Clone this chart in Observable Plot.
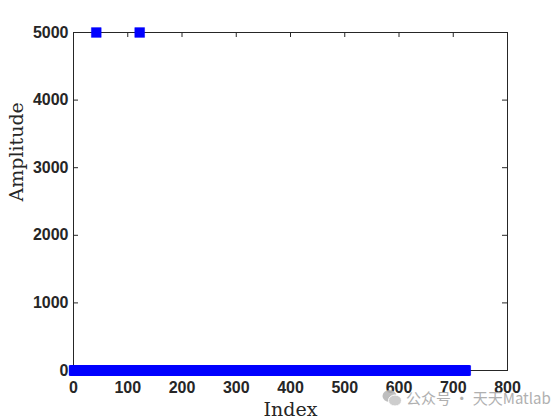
<!DOCTYPE html>
<html>
<head>
<meta charset="utf-8">
<script src="https://cdn.jsdelivr.net/npm/d3@7"></script>
<script src="https://cdn.jsdelivr.net/npm/@observablehq/plot@0.6"></script>
<style>
  body { margin: 0; background: #fff; }
  #wrap { position: relative; width: 560px; height: 420px; }
  #wm { position: absolute; left: 382px; top: 387px; display: flex; align-items: center;
        font-family: "Noto Sans CJK SC", "Noto Sans", sans-serif; font-size: 15px; color: #a8a8a8; opacity: 0.9; white-space: nowrap; }
  #wm svg { margin-right: 4px; }
</style>
</head>
<body>
<div id="wrap"></div>
<script>
// Signal: length and sparse nonzero samples (all other samples are 0)
const signalLength = 723;
const spikeIndex = [42, 122];
const spikeAmplitude = [5000, 5000];
const xTicks = [0, 100, 200, 300, 400, 500, 600, 700, 800];
const yTicks = [0, 1000, 2000, 3000, 4000, 5000];

const amp = new Array(signalLength).fill(0);
spikeIndex.forEach((k, i) => { amp[k - 1] = spikeAmplitude[i]; });
const data = amp.map((a, i) => ({index: i + 1, amplitude: a}));

const axisColor = "#262626";
const frameH = 420 - 32 - 50;
const frameW = 560 - 73 - 53;
const serif = "'DejaVu Serif', 'Liberation Serif', serif";

const chart = Plot.plot({
  width: 560, height: 420,
  marginLeft: 73, marginRight: 53, marginTop: 32, marginBottom: 50,
  style: {fontFamily: "'Liberation Sans', Arial, sans-serif", fontSize: "16px", fontWeight: "bold", color: axisColor, background: "white"},
  x: {domain: [0, 800]},
  y: {domain: [0, 5000]},
  marks: [
    Plot.frame({stroke: axisColor, strokeWidth: 1}),
    // inward ticks (bottom, top, left, right)
    Plot.ruleX(xTicks, {stroke: axisColor, insetTop: frameH - 5}),
    Plot.ruleX(xTicks, {stroke: axisColor, insetBottom: frameH - 5}),
    Plot.ruleY(yTicks, {stroke: axisColor, insetRight: frameW - 5}),
    Plot.ruleY(yTicks, {stroke: axisColor, insetLeft: frameW - 5}),
    Plot.axisX({ticks: xTicks, tickSize: 0, tickPadding: 11, label: null, fill: axisColor}),
    Plot.axisY({ticks: yTicks, tickSize: 0, tickPadding: 5, label: null, fill: axisColor, tickFormat: d => String(d)}),
    Plot.text(["Index"], {frameAnchor: "bottom", lineAnchor: "bottom", dy: 45, fontFamily: serif, fontSize: 19, fontWeight: "normal", fill: "#262626"}),
    Plot.text(["Amplitude"], {frameAnchor: "left", lineAnchor: "bottom", dx: -51, rotate: -90, fontFamily: serif, fontSize: 19, fontWeight: "normal", fill: "#262626"}),
    Plot.dot(data, {x: "index", y: "amplitude", symbol: "square", r: 5.5, fill: "#0000ff", stroke: "#0000ff", strokeWidth: 0.5})
  ]
});
const wrap = document.getElementById("wrap");
wrap.appendChild(chart);
const wm = document.createElement("div");
wm.id = "wm";
wm.innerHTML = '<svg width="20" height="18" viewBox="0 0 20 18"><ellipse cx="7.5" cy="7" rx="7" ry="6" fill="#b8b8b8"/><ellipse cx="13" cy="11.5" rx="6.5" ry="5.5" fill="#c8c8c8" stroke="#fff" stroke-width="1"/></svg><span>公众号 · 天天Matlab</span>';
wrap.appendChild(wm);
</script>
</body>
</html>
